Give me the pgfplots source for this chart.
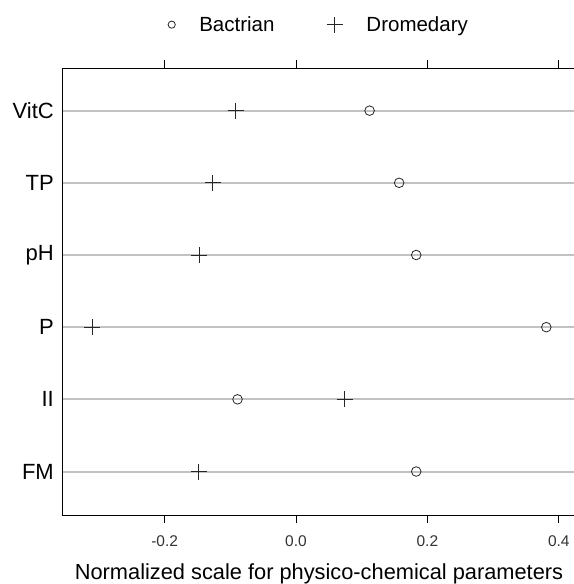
\documentclass[border=0pt]{standalone}
\usepackage{fontspec}
\setmainfont{Liberation Sans}
\usepackage{pgfplots}
\pgfplotsset{compat=1.18}
\begin{document}
\begin{tikzpicture}
\begin{axis}[
 width=514bp, height=447bp, scale only axis,
 xmin=-0.3562, xmax=0.4262, ymin=0.3975, ymax=6.591,
 xtick={-0.2,0,0.2,0.4},
 xticklabels={-0.2,0.0,0.2,0.4},
 xtick pos=both, xticklabel pos=lower,
 tick align=outside,
 major tick length=8bp,
 ytick={1,2,3,4,5,6},
 yticklabels={FM,II,P,pH,TP,VitC},
 ytick style={draw=none},
 xtick style={black, line width=0.8bp},
 axis line style={black, line width=0.8bp},
 ymajorgrids,
 major grid style={color=black!24, line width=2bp},
 /pgf/number format/assume math mode=true,
 xticklabel style={font=\fontsize{15.5bp}{18bp}\selectfont, text=black!80, anchor=base, yshift=-23bp},
 yticklabel style={font=\fontsize{22bp}{26bp}\selectfont, anchor=east, inner sep=0pt},
 xlabel={Normalized scale for physico-chemical parameters},
 xlabel style={font=\fontsize{21.8bp}{26bp}\selectfont, at={(axis description cs:0.5,0)}, anchor=base, yshift=-64bp},
 legend style={at={(axis description cs:0.5,1)}, anchor=south, yshift=31bp, draw=none, fill=none,
   font=\fontsize{20.5bp}{25bp}\selectfont},
 legend columns=2,
 legend cell align=left,
 /tikz/every odd column/.append style={column sep=22bp},
 /tikz/every even column/.append style={column sep=50bp},
]
\addplot[only marks, mark=o, mark size=4.8bp, black!85, line width=0.8bp, forget plot]
 coordinates {(0.112,6) (0.157,5) (0.183,4) (0.381,3) (-0.089,2) (0.183,1)};
\addplot[only marks, mark=+, mark size=8bp, black!85, line width=0.9bp, forget plot]
 coordinates {(-0.092,6) (-0.127,5) (-0.147,4) (-0.310,3) (0.074,2) (-0.148,1)};
\addlegendimage{only marks, mark=o, mark size=3.6bp, black!85, line width=0.8bp}
\addlegendentry{Bactrian}
\addlegendimage{only marks, mark=+, mark size=8bp, black!85, line width=0.8bp}
\addlegendentry{Dromedary}
\coordinate (sw) at (rel axis cs:0,0);
\coordinate (ne) at (rel axis cs:1,1);
\end{axis}
\pgfresetboundingbox
\path[use as bounding box] ([shift={(-62bp,-69bp)}]sw) rectangle ([shift={(-2bp,68bp)}]ne);
\end{tikzpicture}
\end{document}
